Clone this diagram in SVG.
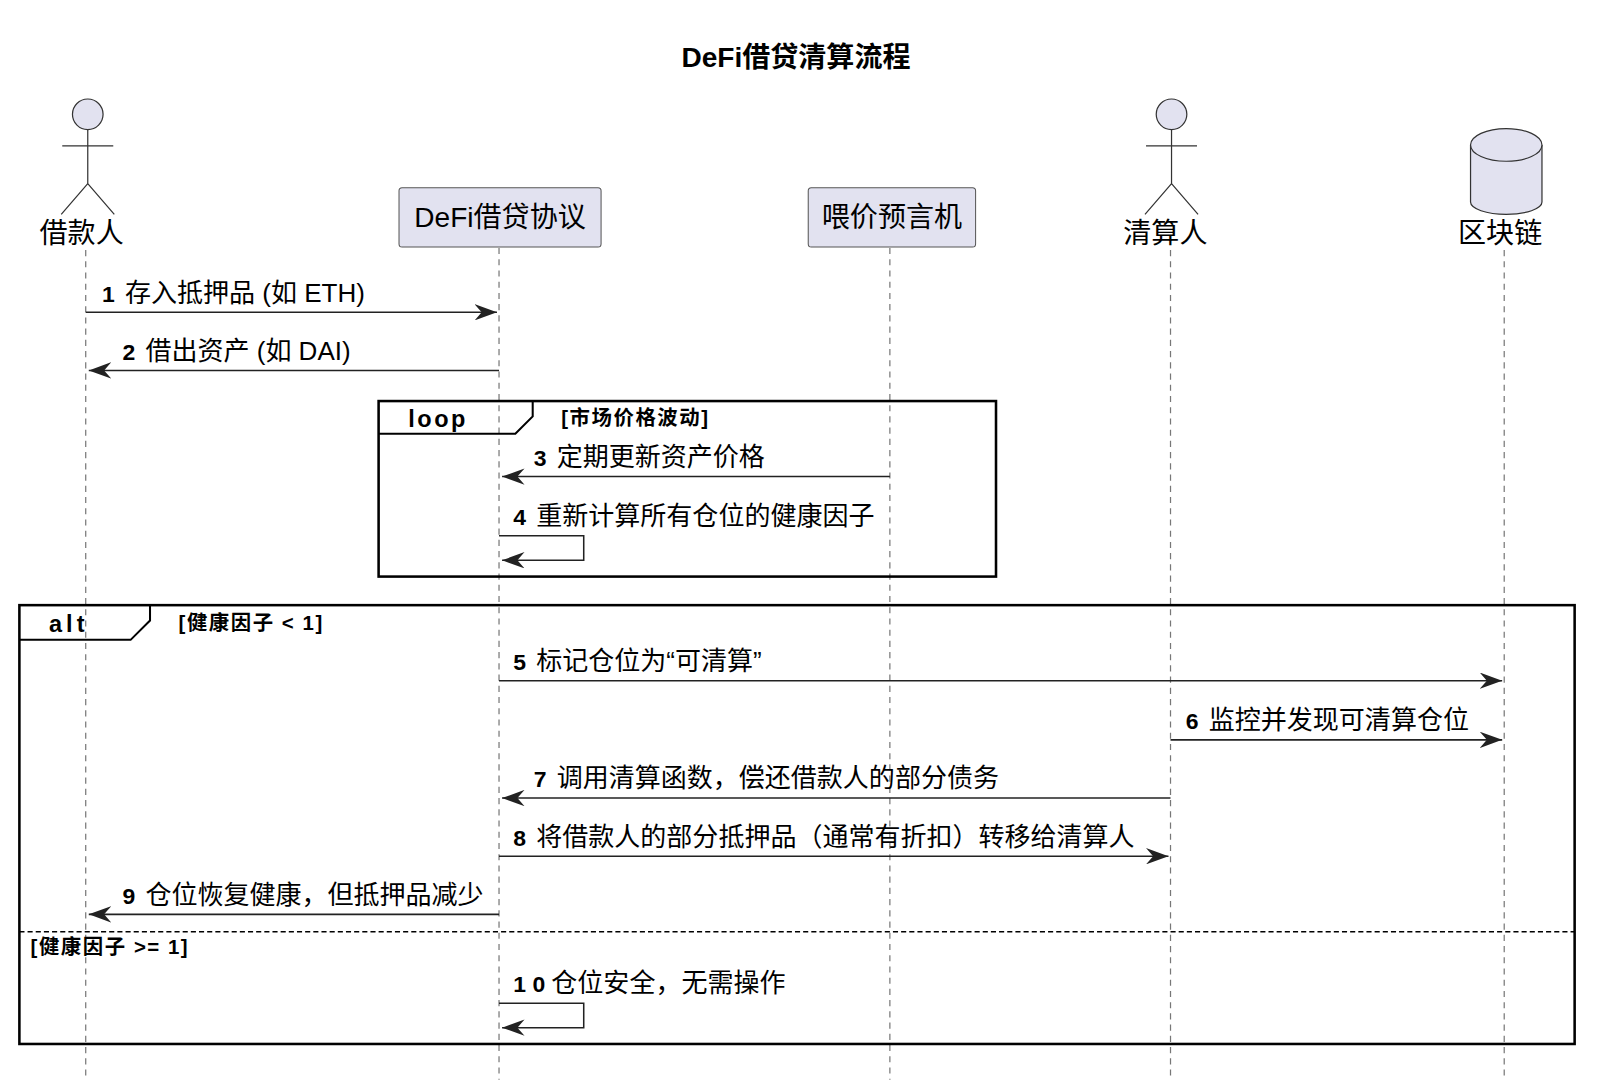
<svg xmlns="http://www.w3.org/2000/svg" width="1600" height="1084" viewBox="0 0 1600 1084">
<style>
text{font-family:"Liberation Sans","Noto Sans CJK SC",sans-serif;fill:#000}
.life{stroke:#777;stroke-width:1.2;stroke-dasharray:6,5}
.msg{stroke:#222;stroke-width:1.5;fill:none}
.box{fill:#e2e2f0;stroke:#555;stroke-width:1}
.act{fill:none;stroke:#333;stroke-width:1.2}
.frame{fill:none;stroke:#000;stroke-width:2.5}
.lbl{font-size:25.5px}
.num{font-weight:bold;font-size:22.5px}
.cond{font-weight:bold;font-size:20px;letter-spacing:1.5px}
.hd{font-size:27.5px}
</style>
<defs>
<marker id="ah" markerWidth="24" markerHeight="16" refX="22" refY="8" orient="auto" markerUnits="userSpaceOnUse">
<path d="M0,0 L22,8 L0,16 L7,8 Z" fill="#222"/>
</marker>
</defs>
<rect width="1600" height="1084" fill="#fff"/>
<g transform="scale(1.0205)">
<text x="780" y="66" text-anchor="middle" font-size="27.5" font-weight="bold">DeFi借贷清算流程</text>
<g id="lifelines">
<line class="life" x1="84" y1="245" x2="84" y2="1058"/>
<line class="life" x1="489" y1="243" x2="489" y2="1058"/>
<line class="life" x1="872" y1="243" x2="872" y2="1058"/>
<line class="life" x1="1147" y1="245" x2="1147" y2="1058"/>
<line class="life" x1="1474" y1="245" x2="1474" y2="1058"/>
</g>
<g id="borrower">
<circle cx="86" cy="112" r="15" fill="#e2e2f0" stroke="#333" stroke-width="1.2"/>
<path class="act" d="M86,127 V180 M61,143 H111 M86,180 L60,210 M86,180 L112,210"/>
<text x="80" y="238" text-anchor="middle" class="hd">借款人</text>
</g>
<g id="protocol">
<rect class="box" x="391" y="184" width="198" height="58" rx="3"/>
<text x="490" y="222" text-anchor="middle" class="hd">DeFi借贷协议</text>
</g>
<g id="oracle">
<rect class="box" x="792" y="184" width="164" height="58" rx="3"/>
<text x="874" y="222" text-anchor="middle" class="hd">喂价预言机</text>
</g>
<g id="liquidator">
<circle cx="1148" cy="112" r="15" fill="#e2e2f0" stroke="#333" stroke-width="1.2"/>
<path class="act" d="M1148,127 V180 M1123,143 H1173 M1148,180 L1122,210 M1148,180 L1174,210"/>
<text x="1142" y="238" text-anchor="middle" class="hd">清算人</text>
</g>
<g id="blockchain">
<path d="M1441,142 V198 A35,12 0 0 0 1511,198 V142" fill="#e2e2f0" stroke="#333" stroke-width="1.2"/>
<ellipse cx="1476" cy="142" rx="35" ry="16" fill="#e2e2f0" stroke="#333" stroke-width="1.2"/>
<text x="1470" y="238" text-anchor="middle" class="hd">区块链</text>
</g>
<g id="frames">
<rect class="frame" x="371" y="393" width="605" height="172"/>
<path d="M371,425 H505 L522,408 V393" fill="none" stroke="#000" stroke-width="2"/>
<text x="400" y="418" font-size="23" font-weight="bold" letter-spacing="2.5">loop</text>
<text x="550" y="416" class="cond">[市场价格波动]</text>
<rect class="frame" x="19" y="593" width="1524" height="430"/>
<path d="M19,627 H128 L147,608 V593" fill="none" stroke="#000" stroke-width="2"/>
<text x="48" y="619" font-size="23" font-weight="bold" letter-spacing="4">alt</text>
<text x="175" y="617" class="cond">[健康因子 &lt; 1]</text>
<line x1="19" y1="913" x2="1543" y2="913" stroke="#000" stroke-width="1.5" stroke-dasharray="5,3"/>
<text x="30" y="935" class="cond">[健康因子 &gt;= 1]</text>
</g>
<g id="connectors">
<line class="msg" x1="84" y1="306" x2="487" y2="306" marker-end="url(#ah)"/>
<text x="100" y="296" class="lbl"><tspan class="num">1</tspan><tspan dx="10">存入抵押品 (如 ETH)</tspan></text>
<line class="msg" x1="489" y1="363" x2="87" y2="363" marker-end="url(#ah)"/>
<text x="120" y="353" class="lbl"><tspan class="num">2</tspan><tspan dx="10">借出资产 (如 DAI)</tspan></text>
<line class="msg" x1="872" y1="467" x2="492" y2="467" marker-end="url(#ah)"/>
<text x="523" y="457" class="lbl"><tspan class="num">3</tspan><tspan dx="10">定期更新资产价格</tspan></text>
<path class="msg" d="M489,525 H572 V549 H492" marker-end="url(#ah)"/>
<text x="503" y="514" class="lbl"><tspan class="num">4</tspan><tspan dx="10">重新计算所有仓位的健康因子</tspan></text>
<line class="msg" x1="489" y1="667" x2="1472" y2="667" marker-end="url(#ah)"/>
<text x="503" y="657" class="lbl"><tspan class="num">5</tspan><tspan dx="10">标记仓位为“可清算”</tspan></text>
<line class="msg" x1="1147" y1="725" x2="1472" y2="725" marker-end="url(#ah)"/>
<text x="1162" y="714" class="lbl"><tspan class="num">6</tspan><tspan dx="10">监控并发现可清算仓位</tspan></text>
<line class="msg" x1="1147" y1="782" x2="492" y2="782" marker-end="url(#ah)"/>
<text x="523" y="771" class="lbl"><tspan class="num">7</tspan><tspan dx="10">调用清算函数，偿还借款人的部分债务</tspan></text>
<line class="msg" x1="489" y1="839" x2="1145" y2="839" marker-end="url(#ah)"/>
<text x="503" y="829" class="lbl"><tspan class="num">8</tspan><tspan dx="10">将借款人的部分抵押品（通常有折扣）转移给清算人</tspan></text>
<line class="msg" x1="489" y1="896" x2="87" y2="896" marker-end="url(#ah)"/>
<text x="120" y="886" class="lbl"><tspan class="num">9</tspan><tspan dx="10">仓位恢复健康，但抵押品减少</tspan></text>
<path class="msg" d="M489,983 H572 V1007 H492" marker-end="url(#ah)"/>
<text x="503" y="972" class="lbl"><tspan class="num">1 0</tspan><tspan dx="6">仓位安全，无需操作</tspan></text>
</g>
</g>
</svg>
